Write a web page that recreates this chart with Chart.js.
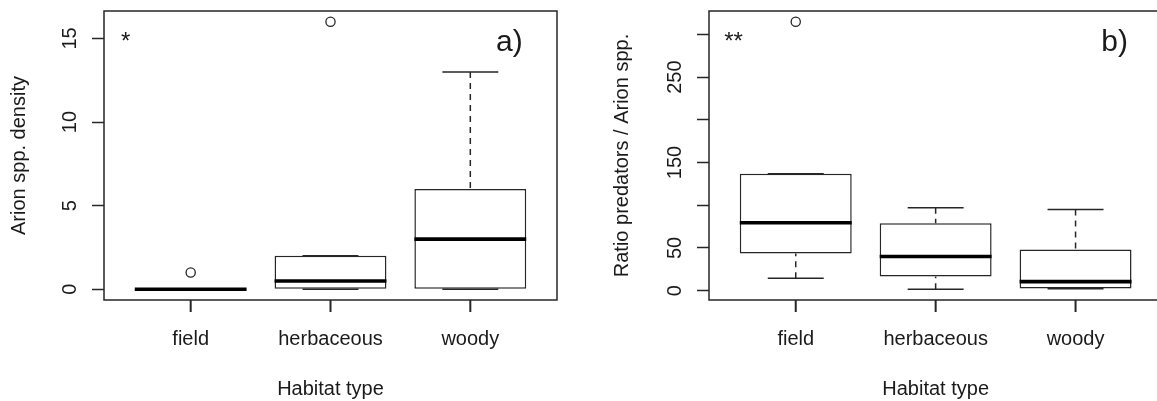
<!DOCTYPE html>
<html>
<head>
<meta charset="utf-8">
<script src="https://cdn.jsdelivr.net/npm/chart.js@4/dist/chart.umd.min.js"></script>
<style>
  html, body { margin: 0; padding: 0; background: #ffffff; overflow: hidden; width: 1157px; height: 401px; }
  canvas { position: absolute; top: 0; }
  #chartA { left: 0; }
  #chartB { left: 577px; }
</style>
</head>
<body>
<canvas id="chartA" width="577" height="401"></canvas>
<canvas id="chartB" width="600" height="401"></canvas>
<script>
// ---- data ----------------------------------------------------------------
const habitats = ['field', 'herbaceous', 'woody'];

// a) Arion spp. density per habitat (five-number summaries + outliers)
const densityLow    = [0, 0, 0];
const densityQ1     = [0, 0, 0];
const densityMedian = [0, 0.5, 3];
const densityQ3     = [0, 2, 6];
const densityHigh   = [0, 2, 13];
const densityOutliers = [[1], [16], []];
const densityTicks      = [0, 5, 10, 15];
const densityTickLabels = ['0', '5', '10', '15'];

// b) ratio predators / Arion spp. per habitat
const ratioLow    = [14.5, 1.5, 2];
const ratioQ1     = [43.5, 16.5, 2.5];
const ratioMedian = [79.5, 40, 10.5];
const ratioQ3     = [137, 79, 48];
const ratioHigh   = [137, 97, 95];
const ratioOutliers = [[315], [], []];
const ratioTicks      = [0, 50, 100, 150, 200, 250, 300];
const ratioTickLabels = ['0', '50', '', '150', '', '250', ''];

// ---- styling ---------------------------------------------------------------
const INK = '#262626';
const TEXT = '#1a1a1a';
const FAMILY = "'Liberation Sans', Arial, Helvetica, sans-serif";
const LINE_W = 1.5;
const TICK_LEN = 12;
const BOX_HALF = 0.4;   // half box width, in category units
const CAP_HALF = 0.2;   // half staple width

function segment(points, extra) {
  return Object.assign({
    type: 'line', data: points, borderColor: INK, borderWidth: LINE_W,
    pointRadius: 0, fill: false, tension: 0, borderCapStyle: 'butt', order: 3
  }, extra || {});
}

function buildDatasets(s) {
  const sets = [];
  sets.push({
    type: 'bar',
    data: s.q1.map((q, i) => ({ x: i + 1, y: [q, s.q3[i]] })),
    backgroundColor: '#ffffff', borderColor: INK, borderWidth: LINE_W,
    borderSkipped: false, categoryPercentage: 1, barPercentage: 2 * BOX_HALF, order: 5
  });
  s.q1.forEach((q, i) => {
    const x = i + 1;
    const dash = { borderDash: [6, 5] };
    // whiskers run from the staple towards the box
    sets.push(segment([{ x, y: s.low[i] }, { x, y: q }], dash));
    sets.push(segment([{ x, y: s.high[i] }, { x, y: s.q3[i] }], dash));
    sets.push(segment([{ x: x - CAP_HALF, y: s.low[i] }, { x: x + CAP_HALF, y: s.low[i] }]));
    sets.push(segment([{ x: x - CAP_HALF, y: s.high[i] }, { x: x + CAP_HALF, y: s.high[i] }]));
    sets.push(segment([{ x: x - BOX_HALF, y: s.median[i] }, { x: x + BOX_HALF, y: s.median[i] }],
      { borderColor: '#000000', borderWidth: 3.6, order: 1 }));
  });
  const pts = [];
  s.outliers.forEach((vals, i) => vals.forEach(v => pts.push({ x: i + 1, y: v })));
  sets.push({
    type: 'scatter', data: pts, pointRadius: 4.6, pointBorderWidth: 1.3,
    pointBorderColor: INK, pointBackgroundColor: '#ffffff', order: 0
  });
  return sets;
}

// value range padded by 4% on both sides
function paddedRange(arrays) {
  const all = [].concat(...arrays.map(a => a.flat()));
  const lo = Math.min(...all), hi = Math.max(...all);
  const pad = 0.04 * (hi - lo);
  return [lo - pad, hi + pad];
}

// frame round the plotting region, category tick marks, rotated y tick labels, panel notes
const panelDecor = {
  id: 'panelDecor',
  afterDraw(chart, args, opts) {
    const { ctx, chartArea: a } = chart;
    const xs = chart.scales.x, ys = chart.scales.y;
    ctx.save();
    ctx.setLineDash([]);
    ctx.strokeStyle = INK;
    ctx.lineWidth = LINE_W;
    ctx.strokeRect(a.left, a.top, a.right - a.left, a.bottom - a.top);

    ctx.lineWidth = 2;
    habitats.forEach((h, i) => {
      const px = xs.getPixelForValue(i + 1);
      ctx.beginPath();
      ctx.moveTo(px, a.bottom);
      ctx.lineTo(px, a.bottom + TICK_LEN);
      ctx.stroke();
    });

    ctx.fillStyle = TEXT;
    ctx.font = '20px ' + FAMILY;
    ctx.textAlign = 'center';
    ctx.textBaseline = 'alphabetic';
    opts.tickValues.forEach((v, i) => {
      const label = opts.tickLabels[i];
      if (!label) return;
      ctx.save();
      ctx.translate(a.left - 28, ys.getPixelForValue(v));
      ctx.rotate(-Math.PI / 2);
      ctx.fillText(label, 0, 0);
      ctx.restore();
    });

    ctx.textAlign = 'center';
    ctx.font = '24px ' + FAMILY;
    ctx.fillText(opts.stars, a.left + opts.starsDx, a.top + 38);
    ctx.textAlign = 'left';
    ctx.font = '30px ' + FAMILY;
    ctx.fillText(opts.tag, a.right - 61, a.top + 40);
    ctx.restore();
  }
};

function makeChart(id, s, cfg) {
  const [ymin, ymax] = paddedRange([s.low, s.high, s.outliers]);
  const xPad = 0.04 * habitats.length;
  const font = { family: FAMILY, size: 20 };
  new Chart(document.getElementById(id), {
    data: { datasets: buildDatasets(s) },
    plugins: [panelDecor],
    options: {
      responsive: false,
      animation: false,
      events: [],
      layout: { padding: { left: 0, top: 11, right: cfg.padRight, bottom: 0 } },
      plugins: {
        legend: { display: false },
        tooltip: { enabled: false },
        panelDecor: {
          tickValues: cfg.ticks, tickLabels: cfg.tickLabels,
          stars: cfg.stars, starsDx: cfg.starsDx, tag: cfg.tag
        }
      },
      scales: {
        x: {
          type: 'linear', offset: false,
          min: 0.5 - xPad, max: habitats.length + 0.5 + xPad,
          afterBuildTicks: sc => { sc.ticks = habitats.map((_, i) => ({ value: i + 1 })); },
          afterFit: sc => { sc.height = 101; },
          ticks: {
            autoSkip: false, maxRotation: 0, minRotation: 0, padding: 15,
            color: TEXT, font,
            callback: v => habitats[Math.round(v) - 1] || ''
          },
          grid: { display: false, drawTicks: true, tickLength: TICK_LEN },
          border: { display: false },
          title: {
            display: true, text: 'Habitat type', color: TEXT,
            font: { family: FAMILY, size: 20, lineHeight: 1.2 },
            padding: { top: 0, bottom: 0 }
          }
        },
        y: {
          type: 'linear', min: ymin, max: ymax,
          afterBuildTicks: sc => { sc.ticks = cfg.ticks.map(v => ({ value: v })); },
          afterFit: sc => { sc.width = cfg.axisWidth; },
          ticks: { display: false },
          grid: {
            offset: false, drawOnChartArea: false, drawTicks: true,
            tickLength: TICK_LEN, tickColor: INK, tickWidth: LINE_W
          },
          border: { display: false },
          title: {
            display: true, text: cfg.yTitle, color: TEXT,
            font: { family: FAMILY, size: 20, lineHeight: 1.2 },
            padding: { top: cfg.titlePad, bottom: 0 }
          }
        }
      }
    }
  });
}

makeChart('chartA', {
  low: densityLow, q1: densityQ1, median: densityMedian, q3: densityQ3,
  high: densityHigh, outliers: densityOutliers
}, {
  ticks: densityTicks, tickLabels: densityTickLabels, yTitle: 'Arion spp. density',
  axisWidth: 104, padRight: 20, titlePad: 7, stars: '*', starsDx: 21.7, tag: 'a)'
});

makeChart('chartB', {
  low: ratioLow, q1: ratioQ1, median: ratioMedian, q3: ratioQ3,
  high: ratioHigh, outliers: ratioOutliers
}, {
  ticks: ratioTicks, tickLabels: ratioTickLabels, yTitle: 'Ratio predators / Arion spp.',
  axisWidth: 132, padRight: 14.7, titlePad: 33.4, stars: '**', starsDx: 24.5, tag: 'b)'
});
</script>
</body>
</html>
